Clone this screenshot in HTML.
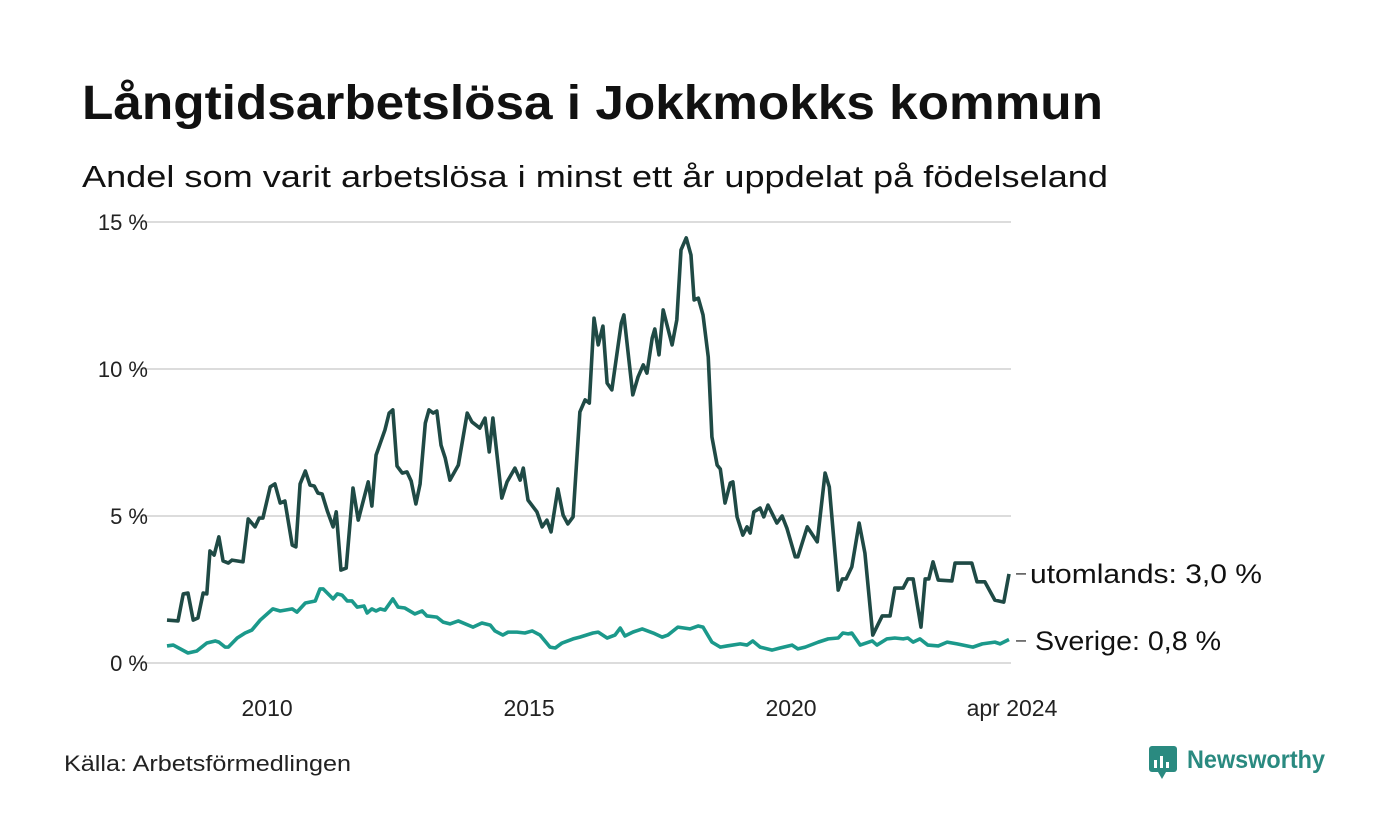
<!DOCTYPE html>
<html><head><meta charset="utf-8"><style>
html,body{margin:0;padding:0;background:#fff;}
svg{display:block;font-family:"Liberation Sans",sans-serif;}
</style></head><body>
<svg id="chart" width="1400" height="840" viewBox="0 0 1400 840">
<text x="82" y="119" font-size="48" font-weight="bold" fill="#111" textLength="1021" lengthAdjust="spacingAndGlyphs">Långtidsarbetslösa i Jokkmokks kommun</text>
<text x="82" y="187" font-size="31" fill="#111" textLength="1026" lengthAdjust="spacingAndGlyphs">Andel som varit arbetslösa i minst ett år uppdelat på födelseland</text>
<g id="grid"></g><g id="xt"></g><g id="lines"></g>
<text x="64" y="771" font-size="22" fill="#222" textLength="287" lengthAdjust="spacingAndGlyphs">Källa: Arbetsförmedlingen</text>
<g>
<rect x="1149" y="746" width="28" height="26" rx="3" fill="#2a8a80"/>
<polygon points="1158,772 1166,772 1162,779" fill="#2a8a80"/>
<rect x="1154" y="760" width="3" height="8" fill="#fff"/><rect x="1160" y="756" width="3" height="12" fill="#fff"/><rect x="1166" y="762" width="3" height="6" fill="#fff"/>
<text x="1187" y="768" font-size="25" font-weight="bold" fill="#2a8a80" textLength="138" lengthAdjust="spacingAndGlyphs">Newsworthy</text>
</g>
</svg>
<script>
const yTicks=[0,5,10,15];
const yTickLabels=["0 %","5 %","10 %","15 %"];
const xTicks=[2010,2015,2020,2024.16];
const xTickLabels=["2010","2015","2020","apr 2024"];
const utomDates=[2008.09,2008.30,2008.40,2008.49,2008.59,2008.68,2008.78,2008.85,2008.91,2008.99,2009.08,2009.16,2009.26,2009.33,2009.54,2009.64,2009.77,2009.85,2009.92,2010.06,2010.15,2010.25,2010.34,2010.48,2010.55,2010.63,2010.73,2010.82,2010.90,2010.97,2011.05,2011.15,2011.26,2011.32,2011.41,2011.51,2011.64,2011.74,2011.81,2011.93,2012.00,2012.08,2012.25,2012.33,2012.40,2012.48,2012.58,2012.67,2012.75,2012.84,2012.92,2013.02,2013.09,2013.17,2013.24,2013.32,2013.40,2013.49,2013.65,2013.82,2013.91,2014.06,2014.16,2014.24,2014.31,2014.48,2014.58,2014.73,2014.83,2014.89,2014.98,2015.15,2015.25,2015.34,2015.42,2015.55,2015.65,2015.74,2015.84,2015.97,2016.07,2016.15,2016.24,2016.32,2016.41,2016.49,2016.58,2016.76,2016.81,2016.98,2017.08,2017.18,2017.25,2017.35,2017.40,2017.48,2017.56,2017.73,2017.82,2017.90,2018.00,2018.09,2018.15,2018.23,2018.32,2018.42,2018.49,2018.59,2018.65,2018.74,2018.84,2018.89,2018.97,2019.08,2019.16,2019.22,2019.29,2019.41,2019.48,2019.56,2019.73,2019.83,2019.92,2020.08,2020.13,2020.31,2020.50,2020.65,2020.73,2020.90,2020.98,2021.05,2021.16,2021.30,2021.41,2021.56,2021.74,2021.89,2021.98,2022.14,2022.23,2022.33,2022.48,2022.56,2022.63,2022.71,2022.81,2023.07,2023.13,2023.45,2023.55,2023.70,2023.89,2024.06,2024.16];
const utomValues=[1.46,1.43,2.35,2.38,1.46,1.53,2.38,2.35,3.81,3.67,4.29,3.47,3.40,3.50,3.44,4.90,4.63,4.93,4.93,5.99,6.09,5.44,5.51,4.01,3.95,6.09,6.53,6.05,6.02,5.78,5.75,5.17,4.63,5.14,3.16,3.23,5.95,4.86,5.34,6.16,5.34,7.07,7.93,8.50,8.61,6.70,6.46,6.50,6.19,5.41,6.09,8.16,8.61,8.50,8.57,7.41,6.97,6.22,6.73,8.50,8.20,7.99,8.33,7.18,8.33,5.61,6.16,6.63,6.22,6.63,5.54,5.14,4.63,4.86,4.46,5.92,5.03,4.73,4.97,8.54,8.95,8.84,11.73,10.82,11.46,9.52,9.29,11.56,11.84,9.12,9.73,10.14,9.86,11.05,11.36,10.48,12.01,10.82,11.67,14.05,14.46,13.88,12.35,12.41,11.84,10.41,7.69,6.73,6.60,5.44,6.12,6.16,4.97,4.35,4.63,4.42,5.14,5.27,4.97,5.37,4.76,5.00,4.59,3.61,3.61,4.63,4.12,6.46,5.99,2.48,2.86,2.86,3.27,4.76,3.74,0.95,1.60,1.60,2.55,2.55,2.86,2.86,1.22,2.86,2.86,3.44,2.82,2.79,3.40,3.40,2.76,2.76,2.14,2.07,3.03];
const sveDates=[2008.09,2008.21,2008.49,2008.66,2008.85,2009.01,2009.08,2009.20,2009.26,2009.43,2009.58,2009.71,2009.87,2010.11,2010.25,2010.48,2010.57,2010.73,2010.92,2011.01,2011.07,2011.26,2011.34,2011.43,2011.53,2011.62,2011.72,2011.85,2011.91,2012.00,2012.08,2012.16,2012.25,2012.40,2012.50,2012.63,2012.82,2012.96,2013.05,2013.24,2013.36,2013.49,2013.65,2013.93,2014.10,2014.26,2014.35,2014.50,2014.60,2014.77,2014.92,2015.06,2015.21,2015.40,2015.50,2015.63,2015.84,2015.97,2016.22,2016.32,2016.49,2016.64,2016.74,2016.83,2016.98,2017.16,2017.37,2017.54,2017.65,2017.84,2018.07,2018.23,2018.32,2018.49,2018.65,2018.78,2019.03,2019.16,2019.27,2019.41,2019.64,2019.79,2020.02,2020.13,2020.27,2020.52,2020.71,2020.90,2020.99,2021.09,2021.16,2021.32,2021.55,2021.64,2021.83,2021.98,2022.14,2022.23,2022.33,2022.46,2022.61,2022.81,2022.98,2023.17,2023.47,2023.65,2023.89,2023.99,2024.16];
const sveValues=[0.58,0.61,0.34,0.41,0.68,0.75,0.71,0.54,0.54,0.85,1.02,1.12,1.46,1.84,1.77,1.84,1.73,2.04,2.11,2.52,2.52,2.18,2.35,2.31,2.11,2.11,1.90,1.94,1.70,1.84,1.77,1.84,1.80,2.18,1.90,1.87,1.67,1.77,1.60,1.56,1.39,1.33,1.43,1.22,1.36,1.29,1.09,0.95,1.05,1.05,1.02,1.09,0.95,0.54,0.51,0.68,0.82,0.88,1.02,1.05,0.85,0.95,1.19,0.92,1.05,1.16,1.02,0.88,0.95,1.22,1.16,1.26,1.22,0.71,0.54,0.58,0.65,0.61,0.75,0.54,0.44,0.51,0.61,0.48,0.54,0.71,0.82,0.85,1.02,0.99,1.02,0.61,0.75,0.61,0.82,0.85,0.82,0.85,0.71,0.82,0.61,0.58,0.71,0.65,0.54,0.65,0.71,0.65,0.80];
const NS="http://www.w3.org/2000/svg";
const X0=167,X1=1009,T0=2008.09,T1=2024.16,Y0=663,Y15=222;
function xs(t){return X0+(t-T0)*(X1-X0)/(T1-T0);}
function ys(v){return Y0-v*(Y0-Y15)/15;}
function mk(tag,attrs,parent){const e=document.createElementNS(NS,tag);for(const k in attrs)e.setAttribute(k,attrs[k]);parent.appendChild(e);return e;}
const grid=document.getElementById('grid');
yTicks.forEach((v,i)=>{
  const l=mk('line',{x1:135,x2:1011,y1:ys(v),y2:ys(v),stroke:'#dcdcdc','stroke-width':2},grid);
  
  
  const t=mk('text',{x:148,y:ys(v)+8,'font-size':22,fill:'#222','text-anchor':'end'},grid);
  t.textContent=yTickLabels[i];
  
  
});
const xt=document.getElementById('xt');
xTicks.forEach((v,i)=>{
  const t=mk('text',{x:xs(v)+(i==3?3:0),y:716,'font-size':23,fill:'#222','text-anchor':'middle'},xt);
  t.textContent=xTickLabels[i];
  
  
});
const lines=document.getElementById('lines');
function draw(d,v,col,name){
  const p=mk('polyline',{points:d.map((t,i)=>xs(t)+','+ys(v[i])).join(' '),fill:'none',stroke:col,'stroke-width':3.6,'stroke-linejoin':'round'},lines);
  
  
}
draw(sveDates,sveValues,'#1b998b','line-sverige');
draw(utomDates,utomValues,'#1f4a45','line-utomlands');
function lab(v,txt,name,x,w){
  const y=ys(v);
  const l=mk('line',{x1:1016,x2:1026,y1:y,y2:y,stroke:'#222','stroke-width':1.2},lines);
  
  
  const t=mk('text',{x:x,y:y+9,'font-size':27,fill:'#111',textLength:w,lengthAdjust:'spacingAndGlyphs'},lines);
  t.textContent=txt;
  
  
}
lab(utomValues[utomValues.length-1],'utomlands: 3,0 %','label-utomlands',1030,232);
lab(sveValues[sveValues.length-1]-0.05,'Sverige: 0,8 %','label-sverige',1035,186);
</script>
</body></html>
